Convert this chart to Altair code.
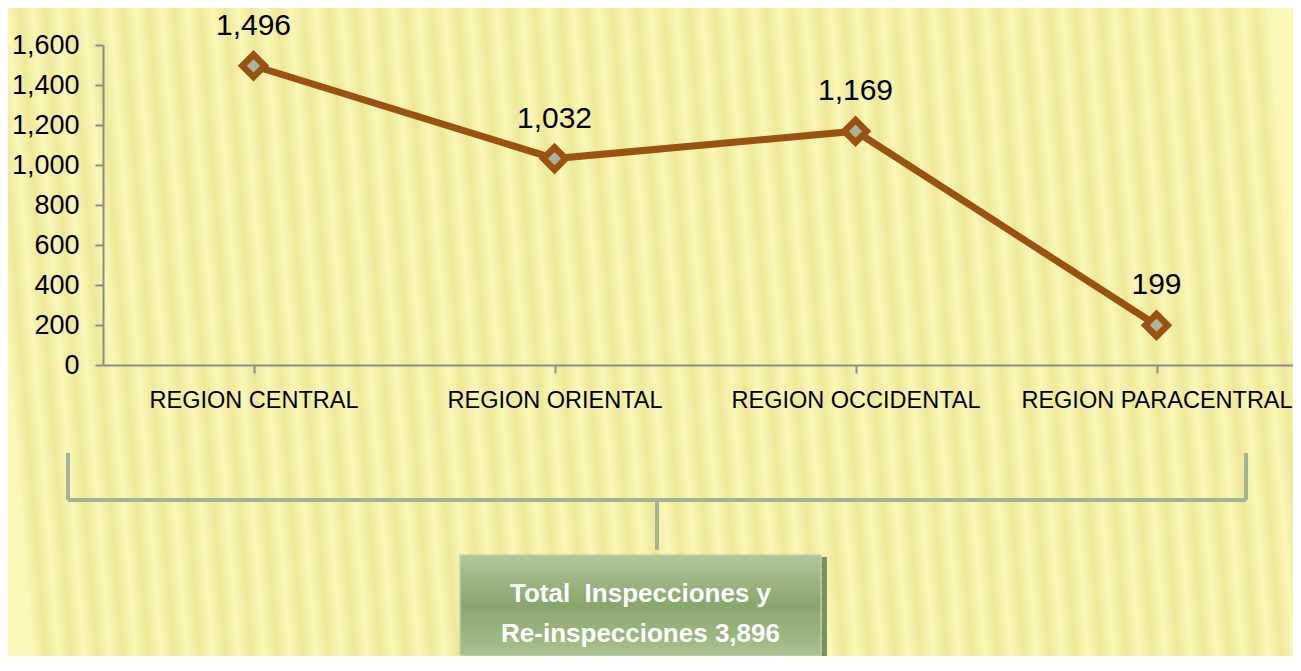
import altair as alt
import pandas as pd

# ---- data ----
regions = ["REGION CENTRAL", "REGION ORIENTAL", "REGION OCCIDENTAL", "REGION PARACENTRAL"]
values = [1496, 1032, 1169, 199]
y_ticks = [0, 200, 400, 600, 800, 1000, 1200, 1400, 1600]
box_lines = ["Total\u00a0 Inspecciones y", "Re-inspecciones 3,896"]

df = pd.DataFrame({"region": regions, "value": values})

# ---- layout (pixels, plot-area coordinates) ----
PAD_L, PAD_T = 95, 37
W, H = 1182, 320
SVG_W, SVG_H = 1285, 648
PAD_R = SVG_W - PAD_L - W
PAD_B = SVG_H - PAD_T - H

BROWN = "#9A5212"
one = alt.Data(values=[{}])

# striped yellow background via gradient
n_str = 50
stops = []
for i in range(n_str):
    stops.append(alt.GradientStop(offset=i / n_str, color="#FAF7B8"))
    stops.append(alt.GradientStop(offset=(i + 0.5) / n_str, color="#EEE898"))
stops.append(alt.GradientStop(offset=1.0, color="#FAF7B8"))
bg = alt.Chart(one).mark_rect(
    color=alt.LinearGradient(gradient="linear", stops=stops, x1=0, y1=0.52, x2=1, y2=0.48)
).encode(
    x=alt.value(-PAD_L), x2=alt.value(SVG_W - PAD_L),
    y=alt.value(-PAD_T), y2=alt.value(SVG_H - PAD_T),
)

xscale = alt.Scale(domain=regions, range=[0, 1204], paddingInner=0, paddingOuter=0)
yscale = alt.Scale(domain=[0, 1600], nice=False)

base = alt.Chart(df).encode(
    x=alt.X("region:N", scale=xscale, sort=regions,
            axis=alt.Axis(title=None, labelAngle=0, labelFontSize=23.5, labelColor="#000000",
                          labelFont="Liberation Sans", labelPadding=15, tickSize=8,
                          tickColor="#8C8C8C", domainColor="#8C8C8C", domainWidth=2,
                          tickWidth=2, bandPosition=0, labelBound=False, labelOverlap=False,
                          labelLimit=0, zindex=1)),
    y=alt.Y("value:Q", scale=yscale,
            axis=alt.Axis(title=None, values=y_ticks,
                          labelExpr="format(datum.value, ',')", labelFontSize=27,
                          labelColor="#000000", labelFont="Liberation Sans", labelPadding=16,
                          tickSize=8, tickColor="#8C8C8C", domainColor="#8C8C8C",
                          domainWidth=2, tickWidth=2, grid=False, zindex=1)),
)

line = base.mark_line(color=BROWN, strokeWidth=7)
pts = base.mark_point(shape="diamond", size=500, filled=True, fill="#A9B598",
                      stroke=BROWN, strokeWidth=6.5, opacity=1)
labels = base.mark_text(dy=-40, fontSize=30, font="Liberation Sans", color="#000000").encode(
    text=alt.Text("value:Q", format=",")
)

# bracket
BR = "#A3B396"
def rule(x1, y1, x2, y2):
    return alt.Chart(one).mark_rule(color=BR, strokeWidth=4).encode(
        x=alt.value(x1), x2=alt.value(x2), y=alt.value(y1), y2=alt.value(y2))

bL, bR, bTop, bY = 68 - 103, 1246 - 103, 453 - 45, 500 - 45
cx = 657 - 103
bracket = [
    rule(bL, bTop, bL, bY),
    rule(bR, bTop, bR, bY),
    rule(bL, bY, bR, bY),
    rule(cx, bY, cx, 550 - 45),
]

# green box
bx1, bx2, by1, by2 = 460 - 103, 821 - 103, 555 - 45, SVG_H - PAD_T
shadow = alt.Chart(one).mark_rect(color="#7C9160").encode(
    x=alt.value(bx2), x2=alt.value(bx2 + 6), y=alt.value(by1 + 2), y2=alt.value(by2))
box = alt.Chart(one).mark_rect(
    color=alt.LinearGradient(gradient="linear", x1=0, y1=0, x2=0, y2=1, stops=[
        alt.GradientStop(offset=0, color="#B0C79A"),
        alt.GradientStop(offset=0.5, color="#8AA56C"),
        alt.GradientStop(offset=1, color="#A9C290")]),
    stroke="#C0D2AA", strokeWidth=1.5,
).encode(x=alt.value(bx1), x2=alt.value(bx2), y=alt.value(by1), y2=alt.value(by2))

tx = (bx1 + bx2) / 2
box_text = alt.Chart(alt.Data(values=[{"t": box_lines[0], "yy": 594 - 45},
                                      {"t": box_lines[1], "yy": 634 - 45}])).mark_text(
    fontSize=26, fontWeight="bold", font="Liberation Sans", color="#FFFFFF", align="center",
    baseline="middle"
).encode(text="t:N", x=alt.value(tx), y=alt.value(0), yOffset=alt.YOffset("yy:Q", scale=None))

chart = alt.layer(bg, line, pts, labels, *bracket, shadow, box, box_text).properties(
    width=W, height=H,
    autosize=alt.AutoSizeParams(type="none"),
    padding={"left": PAD_L, "top": PAD_T, "right": PAD_R, "bottom": PAD_B},
    background="#F4F0A6",
).configure_view(stroke=None)

chart.save("out.html", embed_options={"renderer": "svg", "actions": False})
